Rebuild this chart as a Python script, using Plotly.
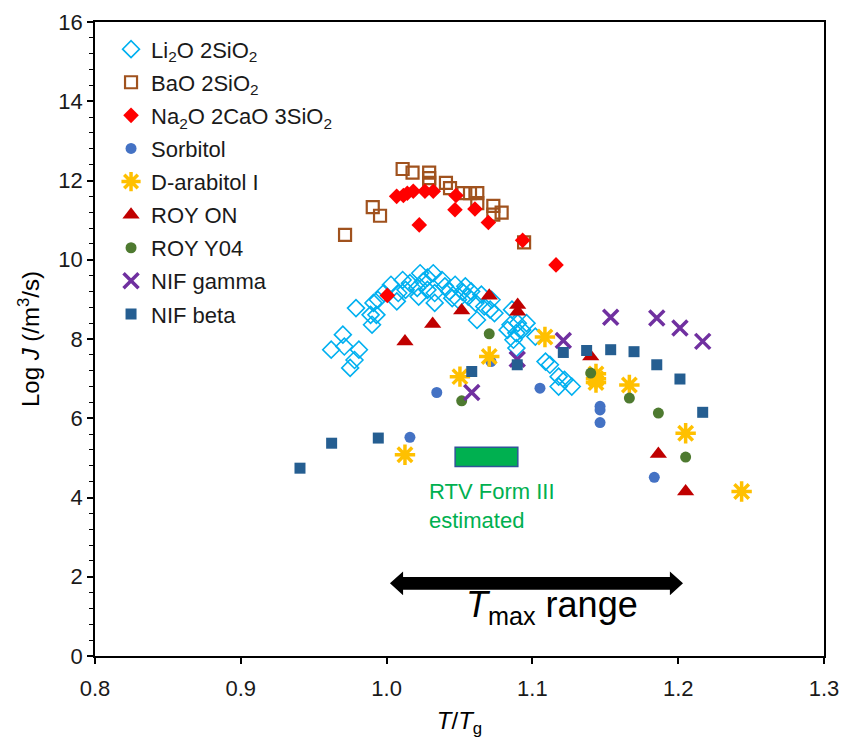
import plotly.graph_objects as go

# ---------------- data ----------------
li2o_x = [0.962, 0.970, 0.971, 0.981, 0.978, 0.975, 0.979, 0.989, 0.993, 0.990, 0.991, 0.994,
          0.998, 1.003, 1.008, 1.007, 1.013, 1.016, 1.021, 1.023, 1.025, 1.022, 1.028, 1.032,
          1.033, 1.038, 1.033, 1.040, 1.043, 1.045, 1.047, 1.049, 1.054, 1.056, 1.058, 1.061,
          1.062, 1.065, 1.067, 1.071, 1.072, 1.074, 1.085, 1.090, 1.096, 1.083, 1.089, 1.093,
          1.087, 1.089, 1.102, 1.109, 1.112, 1.118, 1.122, 1.127, 1.118, 1.011, 1.028, 1.052,
          1.086]
li2o_y = [7.73, 8.11, 7.81, 7.73, 7.47, 7.27, 8.78, 8.61, 8.61, 8.36, 8.91, 8.99,
          9.16, 9.37, 9.16, 8.95, 9.24, 9.41, 9.29, 9.66, 9.45, 9.07, 9.24, 9.66,
          9.16, 9.49, 8.91, 9.33, 9.20, 9.03, 9.37, 8.99, 9.33, 9.07, 9.20, 8.91,
          8.48, 9.12, 8.82, 8.74, 8.99, 8.65, 8.36, 8.40, 8.40, 8.23, 8.15, 8.23,
          7.98, 7.77, 8.06, 7.43, 7.35, 7.05, 6.97, 6.80, 6.80, 9.49, 9.55, 9.19,
          8.74]

bao_x = [0.9715, 0.9905, 0.9955, 1.0110, 1.0178, 1.0292, 1.0292, 1.0292, 1.0407, 1.0435,
         1.0527, 1.0572, 1.0622, 1.0622, 1.0732, 1.0789, 1.0732, 1.0943]
bao_y = [10.63, 11.33, 11.11, 12.29, 12.20, 12.20, 12.06, 11.94, 11.94, 11.81,
         11.68, 11.68, 11.68, 11.43, 11.36, 11.19, 11.14, 10.44]

na2o_x = [1.0069, 1.0115, 1.0142, 1.0183, 1.0263, 1.0320, 1.0476, 1.0469, 1.0606, 1.0224,
          1.0698, 1.0933, 1.1162, 1.0005]
na2o_y = [11.60, 11.62, 11.68, 11.73, 11.73, 11.73, 11.62, 11.26, 11.28, 10.88,
          10.94, 10.49, 9.87, 9.10]

sorb_x = [1.0160, 1.0344, 1.0716, 1.1052, 1.1464, 1.1464, 1.1464, 1.1836]
sorb_y = [5.52, 6.65, 7.43, 6.76, 6.30, 6.21, 5.89, 4.51]

arab_x = [1.0126, 1.0503, 1.0704, 1.1086, 1.1436, 1.1436, 1.1436, 1.1665, 1.2051, 1.2435]
arab_y = [5.08, 7.05, 7.56, 8.05, 7.12, 7.00, 6.90, 6.84, 5.62, 4.15]

royon_x = [1.0126, 1.0316, 1.0515, 1.0704, 1.0899, 1.0899, 1.1400, 1.1864, 1.2051]
royon_y = [7.94, 8.38, 8.72, 9.09, 8.86, 8.69, 7.56, 5.10, 4.15]

roy04_x = [1.0704, 1.0515, 1.1400, 1.1665, 1.1864, 1.2051]
roy04_y = [8.13, 6.44, 7.14, 6.51, 6.13, 5.02]

nifg_x = [1.0584, 1.0896, 1.1212, 1.1537, 1.1853, 1.2012, 1.2168]
nifg_y = [6.65, 7.49, 7.96, 8.55, 8.53, 8.28, 7.94]

nifb_x = [0.9406, 0.9623, 0.9943, 1.0584, 1.0896, 1.1212, 1.1372, 1.1537, 1.1697, 1.1853,
          1.2012, 1.2168]
nifb_y = [4.74, 5.37, 5.50, 7.18, 7.35, 7.66, 7.71, 7.73, 7.68, 7.35, 6.99, 6.15]

# annotation values
rtv_x = [1.047, 1.090]
rtv_y = [4.78, 5.27]
tmax_range = [1.0023, 1.2033]
arrow_y = 1.835

FONT = "Liberation Sans, Arial, sans-serif"
TXT = "#1a1a1a"

series = [
    ("Li<sub>2</sub>O 2SiO<sub>2</sub>", li2o_x, li2o_y,
     dict(symbol="diamond-open", size=13, color="#00B0F0", line=dict(color="#00B0F0", width=1.6))),
    ("BaO 2SiO<sub>2</sub>", bao_x, bao_y,
     dict(symbol="square-open", size=12, color="#A0521E", line=dict(color="#A0521E", width=2.2))),
    ("Na<sub>2</sub>O 2CaO 3SiO<sub>2</sub>", na2o_x, na2o_y,
     dict(symbol="diamond", size=12, color="#FF0000", line=dict(width=0))),
    ("Sorbitol", sorb_x, sorb_y,
     dict(symbol="circle", size=11, color="#4472C4", line=dict(width=0))),
    ("D-arabitol I", arab_x, arab_y,
     dict(symbol="asterisk-open", size=17, color="#FFC000", line=dict(color="#FFC000", width=3.5))),
    ("ROY ON", royon_x, royon_y,
     dict(symbol="triangle-up", size=15, color="#C00000", line=dict(width=0))),
    ("ROY Y04", roy04_x, roy04_y,
     dict(symbol="circle", size=11, color="#4E7A30", line=dict(width=0))),
    ("NIF gamma", nifg_x, nifg_y,
     dict(symbol="x-thin-open", size=15, color="#7030A0", line=dict(color="#7030A0", width=3.5))),
    ("NIF beta", nifb_x, nifb_y,
     dict(symbol="square", size=11, color="#255E91", line=dict(width=0))),
]

fig = go.Figure()
for i, (name, xs, ys, mk) in enumerate(series):
    fig.add_trace(go.Scatter(x=xs, y=ys, mode="markers", name=name, marker=mk,
                             legendgroup=f"g{i}", cliponaxis=False))

# RTV Form III estimated box
fig.add_shape(type="rect", x0=rtv_x[0], x1=rtv_x[1], y0=rtv_y[0], y1=rtv_y[1],
              xref="x", yref="y", fillcolor="#00B050", line=dict(color="#2F5597", width=1.5))
fig.add_annotation(x=1.0275, y=3.79, xref="x", yref="y", xanchor="left", yanchor="middle",
                   text="RTV Form III<br>estimated", showarrow=False, align="left",
                   font=dict(family=FONT, size=22, color="#00B050"))

# double-headed arrow (T_max range)
head_len = 0.009
head_half = 0.30
shaft_half = 0.16
x0, x1 = tmax_range
p = [
    (x0, arrow_y),
    (x0 + head_len, arrow_y + head_half),
    (x0 + head_len, arrow_y + shaft_half),
    (x1 - head_len, arrow_y + shaft_half),
    (x1 - head_len, arrow_y + head_half),
    (x1, arrow_y),
    (x1 - head_len, arrow_y - head_half),
    (x1 - head_len, arrow_y - shaft_half),
    (x0 + head_len, arrow_y - shaft_half),
    (x0 + head_len, arrow_y - head_half),
]
path = "M " + " L ".join(f"{a},{b}" for a, b in p) + " Z"
fig.add_shape(type="path", path=path, xref="x", yref="y", fillcolor="black",
              line=dict(color="black", width=0))
fig.add_annotation(x=1.053, y=1.23, xref="x", yref="y", xanchor="left", yanchor="middle",
                   text="<i>T</i><sub>max</sub> range", showarrow=False,
                   font=dict(family=FONT, size=36, color="black"))

fig.update_layout(
    width=846, height=740,
    margin=dict(l=95, r=22, t=22, b=84, autoexpand=False),
    paper_bgcolor="white", plot_bgcolor="white",
    font=dict(family=FONT, size=22, color=TXT),
    showlegend=True,
    legend=dict(x=0.022, y=0.99, xanchor="left", yanchor="top",
                font=dict(family=FONT, size=22, color=TXT),
                bgcolor="rgba(0,0,0,0)", traceorder="grouped", tracegroupgap=1.5,
                itemwidth=30),
)
fig.update_xaxes(range=[0.8, 1.3], dtick=0.1, tickformat=".1f", showgrid=False, zeroline=False,
                 showline=True, linecolor="black", linewidth=1.5, mirror=True,
                 ticks="outside", ticklen=6, tickcolor="black", tickwidth=1.5,
                 ticklabelstandoff=6, automargin=False,
                 tickfont=dict(family=FONT, size=22, color=TXT),
                 title=dict(text="<i>T</i>/<i>T</i><sub>g</sub>", standoff=12,
                            font=dict(family=FONT, size=24, color="black")))
fig.update_yaxes(range=[0, 16], dtick=2, showgrid=False, zeroline=False,
                 showline=True, linecolor="black", linewidth=1.8, mirror=True,
                 ticks="outside", ticklen=6, tickcolor="black", tickwidth=1.5,
                 automargin=False,
                 minor=dict(dtick=0.4, ticks="outside", ticklen=4, tickcolor="black", tickwidth=1),
                 tickfont=dict(family=FONT, size=22, color=TXT),
                 title=dict(text="Log <i>J</i> (/m<sup>3</sup>/s)", standoff=12,
                            font=dict(family=FONT, size=24, color="black")))

fig.write_html("out.html")
